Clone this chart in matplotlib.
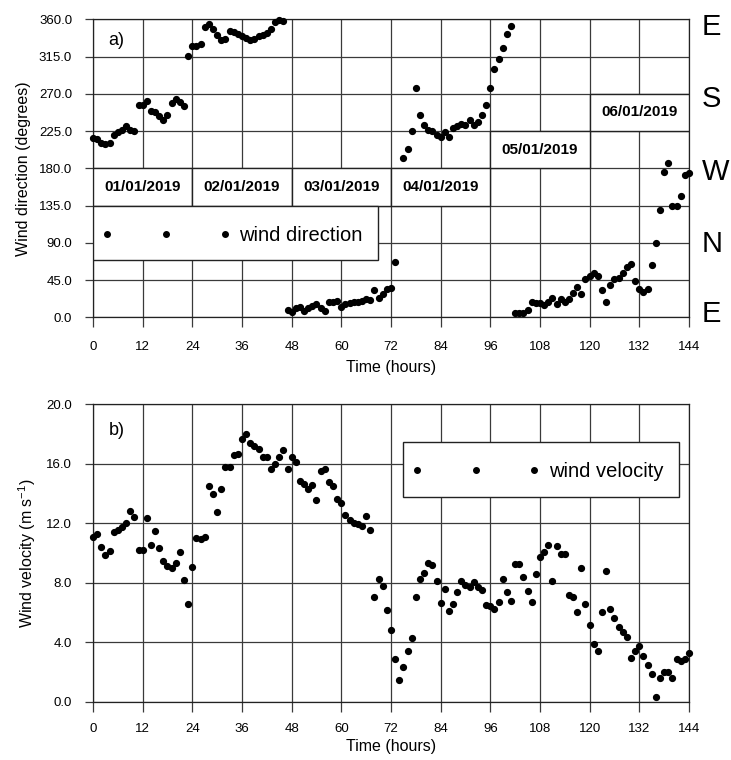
import numpy as np
import matplotlib
matplotlib.use("Agg")
import matplotlib.pyplot as plt
from matplotlib.patches import Rectangle

plt.rcParams['font.family'] = ['Liberation Sans', 'DejaVu Sans']
plt.rcParams['mathtext.fontset'] = 'custom'
plt.rcParams['mathtext.rm'] = 'Liberation Sans'
plt.rcParams['mathtext.it'] = 'Liberation Sans:italic'

# ---------------- data ----------------
hours = np.arange(0, 145)

wind_direction = [
    216.5, 215.7, 210.4, 209.2, 210.4, 219.7, 223.8, 225.7, 230.6, 225.7,
    225.3, 256.8, 256.8, 261.6, 248.7, 247.5, 242.7, 238.6, 244.7, 258.8,
    264.0, 260.0, 254.8, 315.2, 328.2, 328.2, 330.2, 350.4, 354.4, 348.7,
    340.6, 334.6, 336.2, 345.5, 344.3, 342.3, 340.3, 337.4, 334.6, 336.2,
    339.4, 341.5, 343.5, 348.7, 356.8, 359.6, 357.6, 8.8, 6.8, 11.6,
    12.8, 7.6, 10.8, 14.0, 15.7, 10.8, 7.6, 18.1, 18.9, 19.7,
    12.8, 15.7, 16.9, 18.1, 18.9, 20.1, 21.8, 20.9, 33.0, 23.7,
    27.8, 34.2, 35.8, 66.5, np.nan, 192.3, 202.8, 224.5, 277.0, 244.7,
    231.8, 226.6, 225.3, 219.7, 217.7, 223.8, 217.3, 228.6, 230.6, 233.4,
    231.8, 238.6, 231.8, 235.9, 244.7, 256.8, 277.0, 300.3, 312.4, 325.4,
    342.3, 351.5, 5.6, 5.6, 4.8, 8.8, 18.9, 16.9, 16.9, 14.9,
    18.1, 23.0, 16.1, 22.2, 18.9, 22.2, 29.0, 37.0, 27.8, 46.3,
    50.3, 54.0, 50.0, 33.0, 18.9, 39.1, 46.3, 47.9, 53.2, 61.2,
    64.1, 43.9, 34.2, 30.2, 34.2, 63.3, 89.5, 129.8, 175.4, 187.0,
    135.0, 135.0, 146.7, 172.1, 174.2,
]

wind_velocity = [
    11.11, 11.29, 10.44, 9.88, 10.17, 11.40, 11.56, 11.78, 12.05, 12.84,
    12.41, 10.20, 10.20, 12.34, 10.55, 11.49, 10.37, 9.47, 9.14, 8.98,
    9.36, 10.10, 8.19, 6.58, 9.09, 11.04, 10.93, 11.11, 14.48, 13.97,
    12.73, 14.32, 15.78, 15.78, 16.61, 16.66, 17.67, 18.00, 17.40, 17.17,
    16.99, 16.45, 16.43, 15.67, 15.98, 16.45, 16.95, 15.67, 16.45, 16.10,
    14.88, 14.64, 14.30, 14.59, 13.58, 15.49, 15.67, 14.77, 14.52, 13.63,
    13.36, 12.57, 12.24, 12.01, 11.97, 11.85, 12.51, 11.52, 7.07, 8.26,
    7.81, 6.18, 4.83, 2.88, 1.46, 2.36, 3.43, 4.27, 7.03, 8.24,
    8.69, 9.32, 9.21, 8.15, 6.63, 7.59, 6.13, 6.58, 7.37, 8.13,
    7.86, 7.70, 8.08, 7.70, 7.52, 6.53, 6.47, 6.25, 6.69, 8.26,
    7.37, 6.78, 9.25, 9.25, 8.42, 7.45, 6.69, 8.60, 9.76, 10.06,
    10.55, 8.15, 10.50, 9.92, 9.92, 7.19, 7.07, 6.06, 9.02, 6.56,
    5.17, 3.86, 3.43, 6.02, 8.80, 6.25, 5.61, 5.00, 4.67, 4.38,
    2.92, 3.43, 3.77, 3.10, 2.47, 1.87, 0.30, 1.62, 1.98, 1.98,
    1.62, 2.88, 2.76, 2.88, 3.26,
]

x_ticks = [0, 12, 24, 36, 48, 60, 72, 84, 96, 108, 120, 132, 144]
dir_ticks = [0, 45, 90, 135, 180, 225, 270, 315, 360]
vel_ticks = [0, 4, 8, 12, 16, 20]

date_labels = ['01/01/2019', '02/01/2019', '03/01/2019',
               '04/01/2019', '05/01/2019', '06/01/2019']
date_start_hours = [0, 24, 48, 72, 96, 120]
date_box_low = [135, 135, 135, 135, 180, 225]

compass_labels = ['E', 'S', 'W', 'N', 'E']
compass_pos = [341.5, 253.5, 166.0, 79.0, -6.0]

# ---------------- figure ----------------
fig = plt.figure(figsize=(7.31, 7.60), dpi=100)
ax1 = fig.add_axes([0.1272, 0.5825, 0.8153, 0.3921])
ax2 = fig.add_axes([0.1272, 0.0767, 0.8153, 0.3912])

grid_color = '#3a3a3a'
tick_font = ['Liberation Sans Narrow', 'Liberation Sans', 'DejaVu Sans']

def style_axes(ax, yticks, ylim, xpad, xlabelpad):
    ax.set_xlim(0, 144)
    ax.set_ylim(*ylim)
    ax.set_xticks(x_ticks)
    ax.set_yticks(yticks)
    ax.set_yticklabels(['%.1f' % v for v in yticks])
    ax.grid(True, color=grid_color, linewidth=0.9)
    ax.set_axisbelow(True)
    for s in ax.spines.values():
        s.set_color('#222222')
        s.set_linewidth(0.9)
    ax.tick_params(axis='y', direction='out', length=6, width=0.9, pad=9,
                   labelsize=9.5, color=grid_color)
    ax.tick_params(axis='x', direction='out', length=7, width=0.9, pad=xpad,
                   labelsize=9.5, color=grid_color)
    for lab in ax.get_xticklabels() + ax.get_yticklabels():
        lab.set_family(tick_font)
    ax.set_xlabel('Time (hours)', fontsize=11.5, labelpad=xlabelpad)

# ---- panel a ----
style_axes(ax1, dir_ticks, (0, 360), 10, 5)
ax1.plot(hours, wind_direction, 'o', color='black', markersize=4.2,
         linestyle='none', clip_on=False, zorder=6, label='wind direction')
ax1.set_ylabel('Wind direction (degrees)', fontsize=11.5, labelpad=6)

for lab, h0, low in zip(date_labels, date_start_hours, date_box_low):
    ax1.add_patch(Rectangle((h0, low), 24, 45, facecolor='white',
                            edgecolor='#222222', linewidth=1.0, zorder=3))
    ax1.text(h0 + 12, low + 22.5, lab, ha='center', va='center',
             fontsize=11, fontweight='bold', zorder=4)

for lab, y in zip(compass_labels, compass_pos):
    ax1.text(147.0, y, lab, ha='left', va='baseline', fontsize=21,
             clip_on=False)

ax1.text(0.026, 0.914, 'a)', transform=ax1.transAxes, fontsize=13,
         va='baseline', ha='left')

ax1.add_patch(Rectangle((0.0, 0.1923), 0.478, 0.1822, transform=ax1.transAxes,
                        facecolor='white', edgecolor='#222222', linewidth=1.0,
                        zorder=4))
leg1 = ax1.legend(loc='center left', bbox_to_anchor=(0.0129, 0.276),
                  frameon=False, numpoints=3, handlelength=6.45,
                  handletextpad=0.4, borderpad=0, borderaxespad=0,
                  fontsize=14.5, markerscale=0.95)
leg1.set_zorder(7)

# ---- panel b ----
style_axes(ax2, vel_ticks, (0, 20), 8, 3)
ax2.plot(hours, wind_velocity, 'o', color='black', markersize=4.2,
         linestyle='none', clip_on=False, zorder=6, label='wind velocity')
ax2.set_ylabel('Wind velocity (m s$^{-1}$)', fontsize=11.5, labelpad=6)

ax2.text(0.026, 0.897, 'b)', transform=ax2.transAxes, fontsize=13,
         va='baseline', ha='left')

ax2.add_patch(Rectangle((0.5196, 0.6885), 0.4636, 0.185, transform=ax2.transAxes,
                        facecolor='white', edgecolor='#222222', linewidth=1.0,
                        zorder=4))
leg2 = ax2.legend(loc='center left', bbox_to_anchor=(0.533, 0.774),
                  frameon=False, numpoints=3, handlelength=6.45,
                  handletextpad=0.4, borderpad=0, borderaxespad=0,
                  fontsize=14.5, markerscale=0.95)
leg2.set_zorder(7)

fig.savefig('out.png', dpi=100)
